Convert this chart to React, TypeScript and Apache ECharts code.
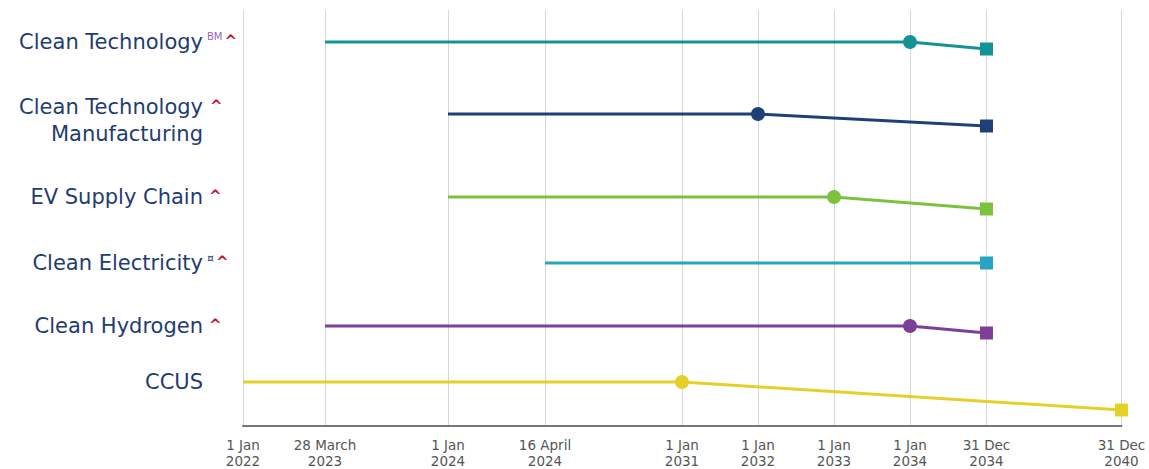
import React, { useEffect, useRef } from "react";
import * as echarts from "echarts";

// X axis: the reference's timeline is not to scale; each date stop has its own axis position.
const tickLabels = [
  "1 Jan\n2022",
  "28 March\n2023",
  "1 Jan\n2024",
  "16 April\n2024",
  "1 Jan\n2031",
  "1 Jan\n2032",
  "1 Jan\n2033",
  "1 Jan\n2034",
  "31 Dec\n2034",
  "31 Dec\n2040",
];
const tickPos = [0, 82, 205, 302, 439, 515, 591, 667, 743.5, 878.5];

// Programs (rows)
const programs = [
  "Clean Technology",
  "Clean Technology\nManufacturing",
  "EV Supply Chain",
  "Clean Electricity",
  "Clean Hydrogen",
  "CCUS",
];
const footnotes = [
  "{bm|BM}{c|^}",
  "{c2|^}",
  "{c|^}",
  "{cur|¤}{c|^}",
  "{c|^}",
  "",
];
const startDates = ["28 March 2023", "1 Jan 2024", "1 Jan 2024", "16 April 2024", "28 March 2023", "1 Jan 2022"];
const milestoneDates: (string | null)[] = ["1 Jan 2034", "1 Jan 2032", "1 Jan 2033", null, "1 Jan 2034", "1 Jan 2031"];
const endDates = ["31 Dec 2034", "31 Dec 2034", "31 Dec 2034", "31 Dec 2034", "31 Dec 2034", "31 Dec 2040"];
// vertical level of each row's line and of its end marker
const rowLevel = [32, 104, 187, 253, 316, 372];
const endLevel = [39, 116, 199, 253, 323, 400];
const colors = ["#139396", "#1f3f78", "#7dc23f", "#27a3c3", "#7d3f98", "#e5d02a"];

const dateKey = (s: string) => s.replace("\n", " ");
const posOf = (d: string) => tickPos[tickLabels.findIndex((t) => dateKey(t) === d)];

const LABEL_FONT = { color: "#1f3c72", fontFamily: "DejaVu Sans", fontSize: 21, lineHeight: 27 };

export default function App() {
  const ref = useRef<HTMLDivElement>(null);
  useEffect(() => {
    if (!ref.current) return;
    const chart = echarts.init(ref.current, undefined, { renderer: "svg" });

    const series = programs.map((name, i) => {
      const pts: any[] = [{ value: [posOf(startDates[i]), rowLevel[i]], symbol: "none" }];
      const m = milestoneDates[i];
      if (m) pts.push({ value: [posOf(m), rowLevel[i]], symbol: "circle", symbolSize: 14 });
      pts.push({ value: [posOf(endDates[i]), endLevel[i]], symbol: "rect", symbolSize: 13 });
      return {
        name: name.replace("\n", " "),
        type: "line",
        data: pts,
        symbol: "none",
        clip: false,
        lineStyle: { color: colors[i], width: 3 },
        itemStyle: { color: colors[i] },
        emphasis: { disabled: true },
      };
    });

    const rowOf = (v: number) => rowLevel.findIndex((r) => Math.abs(r - v) < 0.01);
    const labelFor = (v: number) => {
      const i = rowOf(v);
      if (i < 0) return "";
      const lines = programs[i].split("\n");
      if (lines.length === 1) return `{t|${lines[0]}}`;
      // a thin leading spacer nudges a two-line label down, as in the reference
      return `{s| }\n` + lines.map((l) => `{t|${l}}`).join("\n");
    };
    const noteFor = (v: number) => {
      const i = rowOf(v);
      return i >= 0 ? footnotes[i] : "";
    };

    chart.setOption({
      animation: false,
      grid: { left: 243, right: 27.5, top: 10, bottom: 43, containLabel: false, outerBoundsMode: "none" },
      xAxis: {
        type: "value",
        min: 0,
        max: tickPos[tickPos.length - 1],
        axisLine: { show: true, onZero: false, lineStyle: { color: "#777777", width: 2 } },
        axisTick: { show: false, customValues: tickPos },
        splitLine: { show: true, lineStyle: { color: "#d6d6d6", width: 1 } },
        axisLabel: {
          customValues: tickPos,
          formatter: (v: number) => {
            const i = tickPos.findIndex((p) => Math.abs(p - v) < 0.01);
            return i >= 0 ? tickLabels[i] : "";
          },
          margin: 11,
          color: "#555555",
          fontFamily: "DejaVu Sans",
          fontSize: 13.5,
          lineHeight: 16,
          align: "center",
        },
      },
      yAxis: [
        {
          type: "value",
          inverse: true,
          min: 0,
          max: 416,
          axisLine: { show: false },
          axisTick: { show: false, customValues: rowLevel },
          splitLine: { show: false },
          axisLabel: {
            customValues: rowLevel,
            formatter: labelFor,
            margin: 40,
            align: "right",
            ...LABEL_FONT,
            rich: {
              t: { ...LABEL_FONT },
              s: { fontSize: 6, lineHeight: 12 },
            },
          },
        },
        {
          type: "value",
          inverse: true,
          position: "left",
          min: 0,
          max: 416,
          axisLine: { show: false },
          axisTick: { show: false, customValues: rowLevel },
          splitLine: { show: false },
          axisLabel: {
            customValues: rowLevel,
            formatter: noteFor,
            margin: 36,
            align: "left",
            fontFamily: "DejaVu Sans",
            rich: {
              c: { color: "#c8102e", fontSize: 15, fontWeight: "bold", fontFamily: "DejaVu Sans", padding: [0, 0, 2, 2] },
              c2: { color: "#c8102e", fontSize: 15, fontWeight: "bold", fontFamily: "DejaVu Sans", padding: [0, 0, 16, 3] },
              bm: { color: "#9a64bb", fontSize: 10, fontFamily: "DejaVu Sans", padding: [0, 0, 12, 0] },
              cur: { color: "#1f3c72", fontSize: 11, fontFamily: "DejaVu Sans", padding: [0, 0, 10, 0] },
            },
          },
        },
      ],
      series,
    } as any);

    return () => chart.dispose();
  }, []);

  return (
    <div
      ref={ref}
      style={{ position: "absolute", left: 0, top: 0, width: 1149, height: 469, background: "#ffffff" }}
    />
  );
}
